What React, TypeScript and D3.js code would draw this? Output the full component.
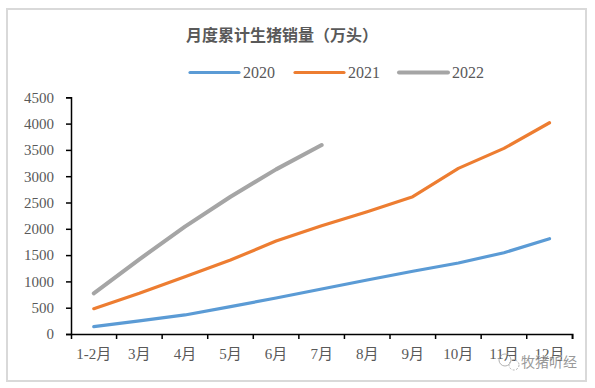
import React, { useRef, useEffect } from "react";
import * as d3 from "d3";

// categories and values (万头, cumulative)
const months = ["1-2月", "3月", "4月", "5月", "6月", "7月", "8月", "9月", "10月", "11月", "12月"];
const sales2020 = [139, 250, 362, 520, 685, 855, 1026, 1192, 1350, 1545, 1811];
const sales2021 = [481, 773, 1089, 1406, 1767, 2058, 2325, 2610, 3149, 3529, 4016];
const sales2022 = [773, 1420, 2040, 2610, 3130, 3592];
const yTicks = [0, 500, 1000, 1500, 2000, 2500, 3000, 3500, 4000, 4500];

const seriesNames = ["2020", "2021", "2022"];
const seriesColors = ["#5b9bd5", "#ed7d31", "#a5a5a5"];

const W = 595;
const H = 388;

const App = () => {
  const svgRef = useRef<SVGSVGElement>(null);

  useEffect(() => {
    const svg = d3.select(svgRef.current);
    svg.selectAll("*").remove();

    // outer frame
    svg.append("rect")
      .attr("x", 7).attr("y", 9)
      .attr("width", 579).attr("height", 372)
      .attr("fill", "#fff")
      .attr("stroke", "#d9d9d9")
      .attr("stroke-width", 2);

    // title
    svg.append("text")
      .attr("x", 282).attr("y", 41)
      .attr("text-anchor", "middle")
      .attr("font-family", "'Noto Sans CJK SC', sans-serif")
      .attr("font-size", 16)
      .attr("font-weight", 700)
      .attr("fill", "#595959")
      .text("月度累计生猪销量（万头）");

    // scales
    const x = d3.scaleBand().domain(months).range([71, 572.3]).padding(0);
    const y = d3.scaleLinear().domain([0, 4500]).range([334, 97.3]);

    // y axis
    const yAxis = d3.axisLeft(y).tickValues(yTicks).tickSize(5).tickPadding(12).tickFormat(d3.format("d"));
    const gy = svg.append("g").attr("transform", "translate(71,0)").call(yAxis);
    gy.select(".domain").attr("stroke", "#000").attr("stroke-width", 1.5);
    gy.selectAll(".tick line").attr("stroke", "#000").attr("stroke-width", 1.5);
    gy.selectAll(".tick text")
      .attr("font-family", "'Liberation Serif', serif")
      .attr("font-size", 15)
      .attr("fill", "#595959");

    // x axis
    const xAxis = d3.axisBottom(x).tickSizeInner(5).tickSizeOuter(5).tickPadding(9);
    const gx = svg.append("g").attr("transform", "translate(0,334)").call(xAxis);
    gx.select(".domain").attr("stroke", "#000").attr("stroke-width", 1.5);
    // ticks between categories instead of at centers
    gx.selectAll(".tick line").attr("x1", x.bandwidth() / 2).attr("x2", x.bandwidth() / 2)
      .attr("stroke", "#000").attr("stroke-width", 1.5);
    gx.selectAll(".tick text")
      .attr("font-family", "'Liberation Serif', 'Noto Sans CJK SC', serif")
      .attr("font-size", 15)
      .attr("fill", "#595959");

    // lines
    const line = d3.line<number>()
      .x((_, i) => (x(months[i]) as number) + x.bandwidth() / 2)
      .y(d => y(d));

    [sales2020, sales2021, sales2022].forEach((s, i) => {
      svg.append("path")
        .datum(s)
        .attr("d", line)
        .attr("fill", "none")
        .attr("stroke", seriesColors[i])
        .attr("stroke-width", i === 2 ? 4 : 3.2)
        .attr("stroke-linecap", "round")
        .attr("stroke-linejoin", "round");
    });

    // legend
    const legendX = [190, 295, 399];
    seriesNames.forEach((name, i) => {
      const g = svg.append("g").attr("transform", `translate(${legendX[i]},72.5)`);
      g.append("line")
        .attr("x1", 0).attr("x2", 49)
        .attr("stroke", seriesColors[i])
        .attr("stroke-width", i === 2 ? 4 : 3.2)
        .attr("stroke-linecap", "round");
      g.append("text")
        .attr("x", 53).attr("y", 5.5)
        .attr("font-family", "'Liberation Serif', serif")
        .attr("font-size", 16)
        .attr("fill", "#595959")
        .text(name);
    });

    // watermark
    const wm = svg.append("g").attr("opacity", 0.75);
    wm.append("circle").attr("cx", 505).attr("cy", 360).attr("r", 6)
      .attr("fill", "none").attr("stroke", "#999").attr("stroke-width", 1);
    wm.append("circle").attr("cx", 514).attr("cy", 365).attr("r", 5)
      .attr("fill", "none").attr("stroke", "#999").attr("stroke-width", 1).attr("stroke-dasharray", "2,1.5");
    wm.append("text")
      .attr("x", 521).attr("y", 367)
      .attr("font-family", "'Noto Sans CJK SC', sans-serif")
      .attr("font-size", 14)
      .attr("fill", "#777")
      .attr("stroke", "#fff")
      .attr("stroke-width", 0.6)
      .attr("paint-order", "stroke")
      .text("牧猪听经");
  }, []);

  return (
    <div style={{ position: "absolute", left: 0, top: 0 }}>
      <svg ref={svgRef} width={W} height={H} style={{ display: "block" }}></svg>
    </div>
  );
};

export default App;
